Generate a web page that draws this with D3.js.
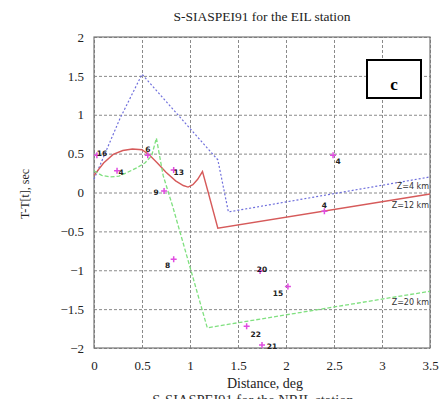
<!DOCTYPE html>
<html>
<head>
<meta charset="utf-8">
<script src="https://cdn.jsdelivr.net/npm/d3@7"></script>
<style>
  body { margin: 0; background: #fff; }
  svg { display: block; }
</style>
</head>
<body>
<div id="container"></div>
<script>
// ticks
const xTicks = [0, 0.5, 1, 1.5, 2, 2.5, 3, 3.5];
const yTicks = [-2, -1.5, -1, -0.5, 0, 0.5, 1, 1.5, 2];

// model curves [distance, residual]
const z4 = [[0, 0.17], [0.27, 0.95], [0.5, 1.52], [1.29, 0.42], [1.4, -0.25], [3.5, 0.2]];
const z12 = [[0, 0.22], [0.1, 0.38], [0.2, 0.49], [0.3, 0.54], [0.4, 0.56], [0.5, 0.55], [0.58, 0.48],
    [0.66, 0.38], [0.75, 0.26], [0.85, 0.15], [0.93, 0.09], [0.98, 0.07], [1.03, 0.1], [1.08, 0.17],
    [1.13, 0.27], [1.19, 0.0], [1.29, -0.46], [3.5, -0.02]];
const z20 = [[0, 0.28], [0.08, 0.22], [0.17, 0.2], [0.26, 0.21], [0.35, 0.26], [0.45, 0.32], [0.53, 0.38],
    [0.6, 0.47], [0.65, 0.7], [0.72, 0.22], [0.82, -0.18], [1.18, -1.74], [3.5, -1.27]];

// observed events
const obsDist = [0.03, 0.24, 0.56, 0.83, 0.73, 0.83, 1.73, 2.02, 1.59, 1.75, 2.49, 2.4];
const obsRes = [0.48, 0.28, 0.48, 0.29, 0.02, -0.86, -1.01, -1.21, -1.72, -1.96, 0.48, -0.24];
const obsName = ["16", "4", "6", "13", "9", "8", "20", "15", "22", "21", "4", "4"];
// label offsets in px (layout only)
const obsDx = [5, 4, 0, 5, -8, -6, 2, -10, 9, 10, 5, 0];
const obsDy = [-2, 2, -6, 2, 1, 6, -2, 7, 8, 1, 6, -6];

const curveNames = ["Z=4 km", "Z=12 km", "Z=20 km"];

const main = () => {
    const w = 440, h = 399;
    const m = { left: 94, top: 37, right: 10, bottom: 51 };

    const svg = d3.select('#container').append('svg')
        .attr('width', w)
        .attr('height', h)
        .style('overflow', 'hidden');

    const x = d3.scaleLinear().domain([0, 3.5]).range([m.left, w - m.right]);
    const y = d3.scaleLinear().domain([-2, 2]).range([h - m.bottom, m.top]);

    // grid
    const gx = svg.append('g')
        .attr('transform', `translate(0,${h - m.bottom})`)
        .call(d3.axisBottom(x).tickValues(xTicks).tickSize(-(h - m.bottom - m.top)).tickFormat(d3.format('')).tickPadding(8));
    const gy = svg.append('g')
        .attr('transform', `translate(${m.left},0)`)
        .call(d3.axisLeft(y).tickValues(yTicks).tickSize(-(w - m.right - m.left)).tickFormat(d3.format('')).tickPadding(10));
    [gx, gy].forEach(g => {
        g.select('.domain').remove();
        g.selectAll('.tick line')
            .attr('stroke', '#8a8a8a')
            .attr('stroke-dasharray', '3,2');
        g.selectAll('.tick text')
            .attr('font-family', 'Liberation Serif, serif')
            .attr('font-size', 13)
            .attr('fill', '#222');
    });
    gx.selectAll('.tick text').attr('dy', '1.05em');

    svg.append('rect')
        .attr('x', m.left).attr('y', m.top)
        .attr('width', w - m.left - m.right)
        .attr('height', h - m.top - m.bottom)
        .attr('fill', 'none')
        .attr('stroke', '#777')
        .attr('stroke-width', 1.2);

    const line = d3.line().x(d => x(d[0])).y(d => y(d[1]));

    svg.append('path').datum(z4)
        .attr('d', line).attr('fill', 'none')
        .attr('stroke', '#6f6fdc').attr('stroke-width', 1.2).attr('stroke-dasharray', '2,2');
    svg.append('path').datum(z12)
        .attr('d', line).attr('fill', 'none')
        .attr('stroke', '#d65a5a').attr('stroke-width', 1.4);
    svg.append('path').datum(z20)
        .attr('d', line).attr('fill', 'none')
        .attr('stroke', '#7fe07f').attr('stroke-width', 1.3).attr('stroke-dasharray', '4,2');

    // curve labels
    const labelY = [0.05, -0.2, -1.45];
    svg.selectAll('.zlab').data(curveNames).enter()
        .append('text')
        .attr('class', 'zlab')
        .attr('x', w - m.right - 1)
        .attr('y', (d, i) => y(labelY[i]))
        .attr('text-anchor', 'end')
        .attr('font-family', 'DejaVu Sans, sans-serif')
        .attr('font-size', 8)
        .attr('fill', '#333')
        .text(d => d);

    // observations
    const pts = svg.selectAll('.obs').data(obsDist).enter().append('g')
        .attr('class', 'obs')
        .attr('transform', (d, i) => `translate(${x(d)},${y(obsRes[i])})`);
    pts.append('path')
        .attr('d', 'M-3,0H3M0,-3V3')
        .attr('stroke', '#e04ce0')
        .attr('stroke-width', 1.5);
    pts.append('text')
        .attr('x', (d, i) => obsDx[i])
        .attr('y', (d, i) => obsDy[i])
        .attr('dy', '0.35em')
        .attr('text-anchor', 'middle')
        .attr('font-family', 'DejaVu Sans, sans-serif')
        .attr('font-size', 7.5)
        .attr('font-weight', 'bold')
        .attr('fill', '#222')
        .text((d, i) => obsName[i]);

    // panel letter box
    svg.append('rect')
        .attr('x', 367).attr('y', 60).attr('width', 54).attr('height', 38)
        .attr('fill', '#fff').attr('stroke', '#000').attr('stroke-width', 2);
    svg.append('text')
        .attr('x', 394).attr('y', 90)
        .attr('text-anchor', 'middle')
        .attr('font-family', 'Liberation Serif, serif')
        .attr('font-weight', 'bold')
        .attr('font-size', 17)
        .text('c');

    // titles
    svg.append('text')
        .attr('x', 262).attr('y', 21)
        .attr('text-anchor', 'middle')
        .attr('font-family', 'Liberation Serif, serif')
        .attr('font-size', 13.5)
        .attr('fill', '#222')
        .text('S-SIASPEI91 for the EIL station');
    svg.append('text')
        .attr('x', 265).attr('y', 388)
        .attr('text-anchor', 'middle')
        .attr('font-family', 'Liberation Serif, serif')
        .attr('font-size', 14)
        .attr('fill', '#222')
        .text('Distance, deg');
    svg.append('text')
        .attr('x', 25).attr('y', 194)
        .attr('transform', 'rotate(-90,25,194)')
        .attr('text-anchor', 'middle')
        .attr('dy', '0.35em')
        .attr('font-family', 'Liberation Serif, serif')
        .attr('font-size', 12)
        .attr('fill', '#222')
        .text('T-T[t], sec');
    // next panel's title, cut by the frame
    svg.append('text')
        .attr('x', 253).attr('y', 405)
        .attr('text-anchor', 'middle')
        .attr('font-family', 'Liberation Serif, serif')
        .attr('font-size', 14.5)
        .attr('fill', '#333')
        .text('S-SIASPEI91 for the NRIL station');
}
main();
</script>
</body>
</html>
